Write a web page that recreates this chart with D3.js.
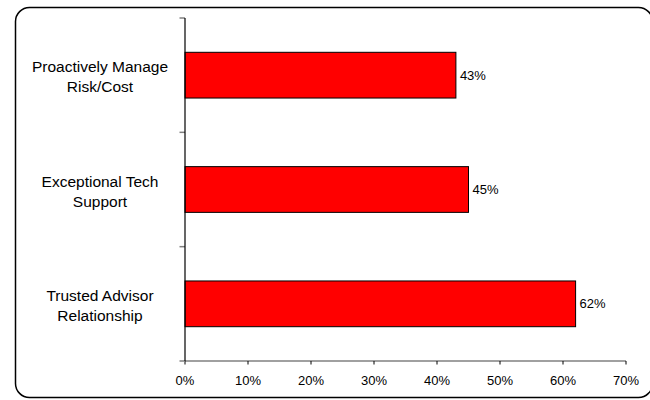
<!DOCTYPE html>
<html>
<head>
<meta charset="UTF-8">
<script src="https://d3js.org/d3.v7.min.js"></script>
<style>
html, body { margin: 0; padding: 0; background: #fff; }
svg { font-family: Arial, "Liberation Sans", sans-serif; display: block; }
</style>
</head>
<body>
<script>
// chart data
var categories = [["Proactively Manage", "Risk/Cost"], ["Exceptional Tech", "Support"], ["Trusted Advisor", "Relationship"]];
var values = [0.43, 0.45, 0.62];
var tickValues = [0, 0.1, 0.2, 0.3, 0.4, 0.5, 0.6, 0.7];

var width = 650, height = 400;
var svg = d3.select("body").append("svg")
    .attr("width", width)
    .attr("height", height);

// outer frame
svg.append("rect")
    .attr("x", 15.5).attr("y", 7.5)
    .attr("width", 637).attr("height", 390)
    .attr("rx", 14).attr("ry", 14)
    .attr("fill", "none")
    .attr("stroke", "#000")
    .attr("stroke-width", 1.5);

var x = d3.scaleLinear().domain([0, 0.7]).range([185, 626]);
var y = d3.scaleBand().domain(d3.range(values.length)).range([18, 361]).paddingInner(0.6).paddingOuter(0.3);

// bars
svg.selectAll(".bar").data(values).enter().append("rect")
    .attr("x", x(0))
    .attr("y", (d, i) => y(i))
    .attr("width", d => x(d) - x(0))
    .attr("height", y.bandwidth())
    .attr("fill", "#ff0000")
    .attr("stroke", "#000")
    .attr("stroke-width", 1);

// value labels
svg.selectAll(".val").data(values).enter().append("text")
    .attr("x", d => x(d) + 4)
    .attr("y", (d, i) => y(i) + y.bandwidth() / 2)
    .attr("dy", "0.35em")
    .attr("font-size", 13)
    .attr("fill", "#000")
    .text(d => Math.round(d * 100) + "%");

// x axis
var xAxis = svg.append("g").attr("transform", "translate(0,361)");
xAxis.append("line")
    .attr("x1", x(0)).attr("x2", x(0.7))
    .attr("stroke", "#808080").attr("stroke-width", 1.5);
xAxis.selectAll(".xt").data(tickValues).enter().append("line")
    .attr("x1", d => x(d)).attr("x2", d => x(d))
    .attr("y1", 0).attr("y2", 3.5)
    .attr("stroke", "#000");
xAxis.selectAll(".xl").data(tickValues).enter().append("text")
    .attr("x", d => x(d))
    .attr("y", 24)
    .attr("text-anchor", "middle")
    .attr("font-size", 13)
    .attr("fill", "#000")
    .text(d => Math.round(d * 100) + "%");

// y axis with category boundary ticks
var bounds = [18, 18 + 343 / 3, 18 + 686 / 3, 361];
svg.selectAll(".yt").data(bounds).enter().append("line")
    .attr("x1", 179.5).attr("x2", x(0))
    .attr("y1", d => d).attr("y2", d => d)
    .attr("stroke", "#808080").attr("stroke-width", 1.5);
svg.append("line")
    .attr("x1", x(0)).attr("x2", x(0))
    .attr("y1", 18).attr("y2", 361)
    .attr("stroke", "#000").attr("stroke-width", 1.2);

// category labels
svg.selectAll(".cat").data(categories).enter().append("text")
    .attr("text-anchor", "middle")
    .attr("font-size", 15.5)
    .attr("fill", "#000")
    .each(function (d, i) {
        var t = d3.select(this);
        var cy = y(i) + y.bandwidth() / 2;
        d.forEach(function (line, j) {
            t.append("tspan")
                .attr("x", 100)
                .attr("y", cy - 3 + j * 20)
                .text(line);
        });
    });
</script>
</body>
</html>
